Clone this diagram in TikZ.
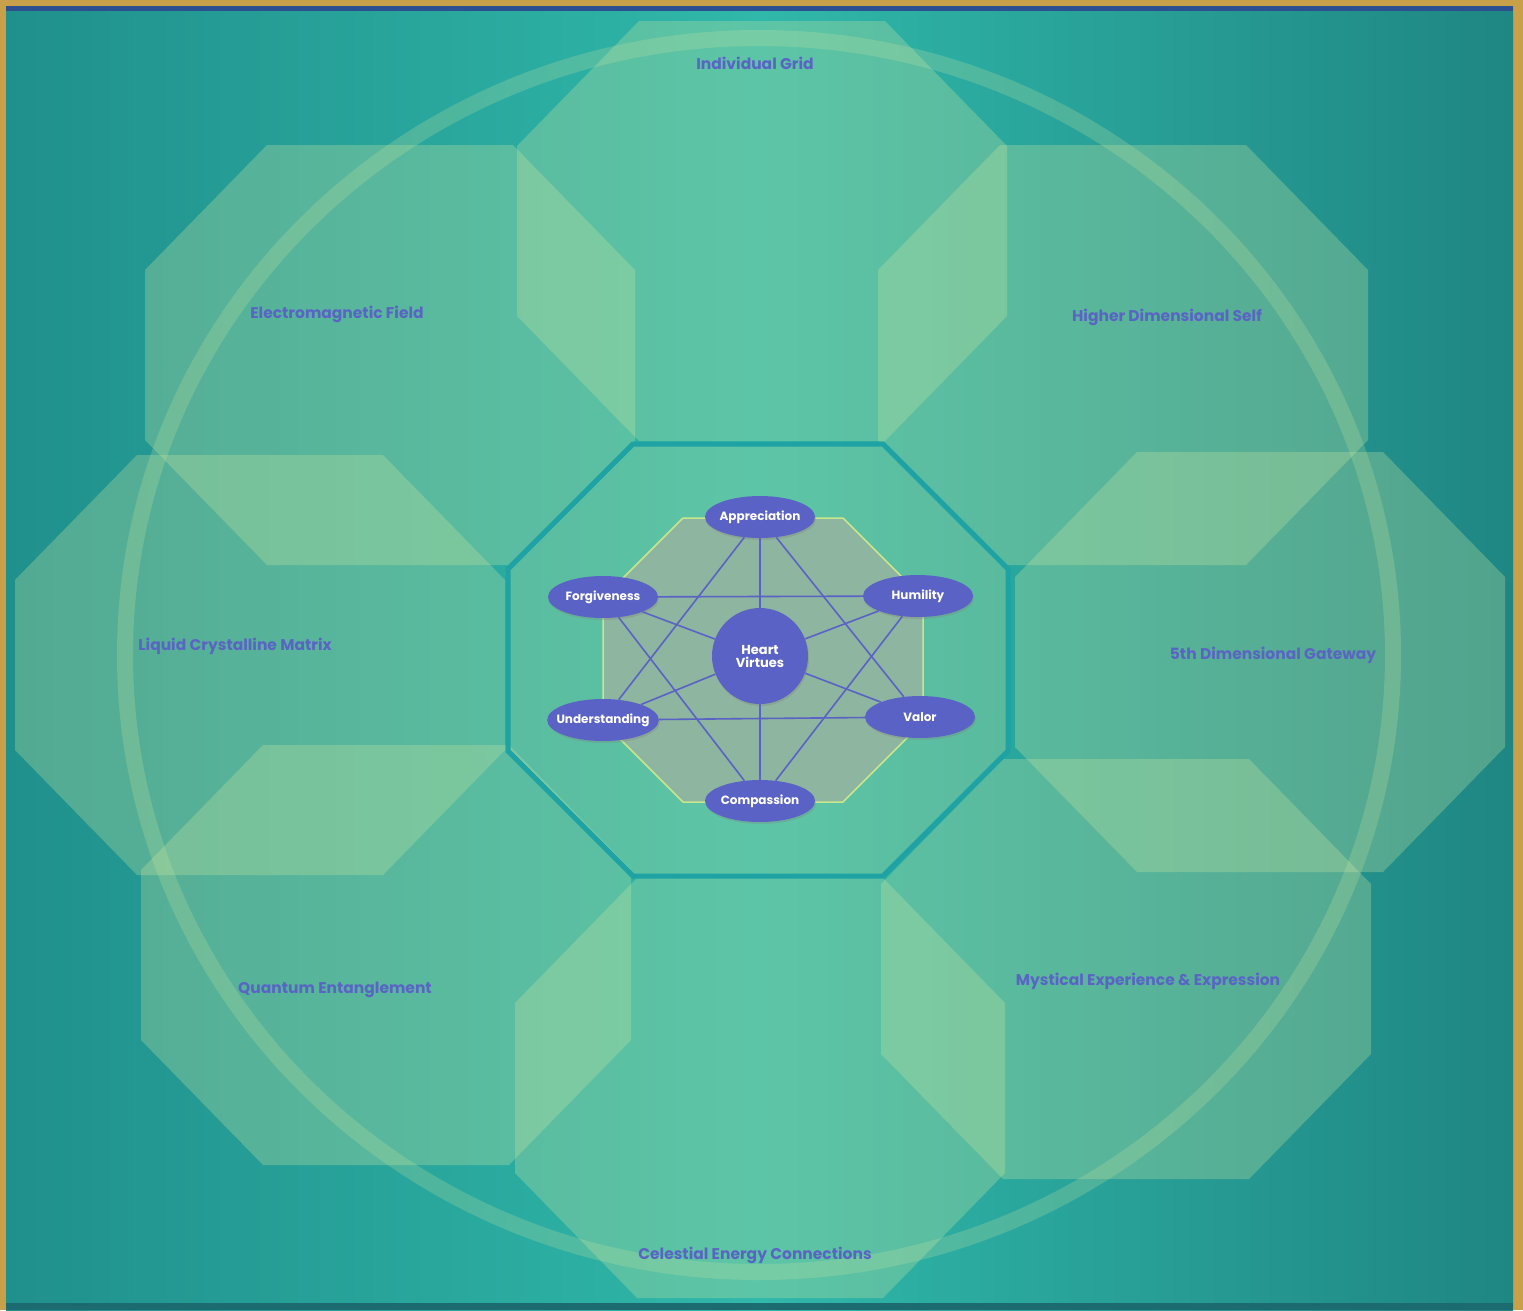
\documentclass[tikz,border=0pt]{standalone}
\usepackage{fontspec}
\setmainfont{Poppins}
\usetikzlibrary{shapes.geometric,shadows}

\definecolor{framegold}{HTML}{C9A04A}
\definecolor{frameblue}{HTML}{2B4F8F}
\definecolor{tealleft}{HTML}{20908C}
\definecolor{tealmid}{HTML}{30B8AA}
\definecolor{tealright}{HTML}{1F8683}
\definecolor{tealdeep}{HTML}{1C6B70}
\definecolor{leafpale}{HTML}{C8E6A1}
\definecolor{hubrim}{HTML}{1FA2A3}
\definecolor{coregrey}{HTML}{8DB59F}
\definecolor{coreedge}{HTML}{C8E68C}
\definecolor{virtueblue}{HTML}{5A62C6}
\definecolor{labelblue}{HTML}{5A64C4}

\begin{document}
\begin{tikzpicture}[
    x=1pt,
    y=-1pt,
    octfill/.style={fill=leafpale,fill opacity=0.3},
    virtue/.style={ellipse,fill=virtueblue,text=white,
      inner xsep=-7pt,inner ysep=0pt,
      minimum width=110pt,minimum height=42pt,
      font=\fontsize{12}{13}\selectfont\bfseries,
      drop shadow={opacity=0.3,shadow xshift=1pt,shadow yshift=-2pt}},
    hub/.style={circle,fill=virtueblue,text=white,inner sep=0pt,
      minimum size=96pt,align=center,
      font=\fontsize{13}{14}\selectfont\bfseries,
      drop shadow={opacity=0.3,shadow xshift=1pt,shadow yshift=-2pt}},
    link/.style={virtueblue,line width=1.6pt},
    fieldlabel/.style={text=labelblue,font=\fontsize{15.5}{17}\selectfont\bfseries}
  ]
    \useasboundingbox (0,0) rectangle (1523,1310);

    % frame and background
    \fill[framegold] (0,0) rectangle (1523,1310);
    \shade[left color=tealleft,right color=tealright,middle color=tealmid]
      (6,7) rectangle (1513,1310);
    \fill[frameblue] (6,6) rectangle (1513,11);
    \fill[tealdeep] (6,1303) rectangle (1513,1310);

    % eight outer octagons
    \foreach \cx/\cy in {762/231,390/355,1123/355,260/665,
                         1260/662,386/955,1126/969,760/1088}
      \fill[octfill,shift={(\cx,\cy)}]
        (-123,-210) -- (123,-210) -- (245,-85) -- (245,85)
        -- (123,210) -- (-123,210) -- (-245,85) -- (-245,-85) -- cycle;

    \draw[leafpale,draw opacity=0.24,line width=16pt]
      (759,655) ellipse [x radius=634,y radius=617];

    % central octagon
    \filldraw[octfill,draw=hubrim,line width=5pt,shift={(758,660)}]
      (-125,-216) -- (125,-216) -- (250,-91) -- (250,91)
      -- (125,216) -- (-125,216) -- (-250,91) -- (-250,-91) -- cycle;
    \filldraw[fill=coregrey,draw=coreedge,line width=1.5pt,shift={(763,660)}]
      (-80,-142) -- (80,-142) -- (160,-62) -- (160,62)
      -- (80,142) -- (-80,142) -- (-160,62) -- (-160,-62) -- cycle;

    \node[hub] (heart) at (760,656) {Heart\\[-1pt]Virtues};
    \node[virtue] (appreciation) at (760,517) {Appreciation};
    \node[virtue] (forgiveness) at (603,597) {Forgiveness};
    \node[virtue] (humility) at (918,596) {Humility};
    \node[virtue] (understanding) at (603,720) {Understanding};
    \node[virtue] (valor) at (920,717) {Valor};
    \node[virtue] (compassion) at (760,801) {Compassion};

    \draw[link] (appreciation) -- (understanding) -- (valor) -- (appreciation);
    \draw[link] (forgiveness) -- (humility) -- (compassion) -- (forgiveness);
    \foreach \v in {appreciation,forgiveness,humility,understanding,valor,compassion}
      \draw[link] (heart) -- (\v);

    % field labels
    \node[fieldlabel] (grid) at (755,63) {Individual Grid};
    \node[fieldlabel] (emfield) at (337,314) {Electromagnetic Field};
    \node[fieldlabel] (higherself) at (1167,317) {Higher Dimensional Self};
    \node[fieldlabel] (liquid) at (235,646) {Liquid Crystalline Matrix};
    \node[fieldlabel] (gateway) at (1273,655) {5th Dimensional Gateway};
    \node[fieldlabel] (quantum) at (335,990) {Quantum Entanglement};
    \node[fieldlabel] (mystical) at (1148,981) {Mystical Experience \& Expression};
    \node[fieldlabel] (celestial) at (755,1255) {Celestial Energy Connections};
  \end{tikzpicture}
\end{document}
